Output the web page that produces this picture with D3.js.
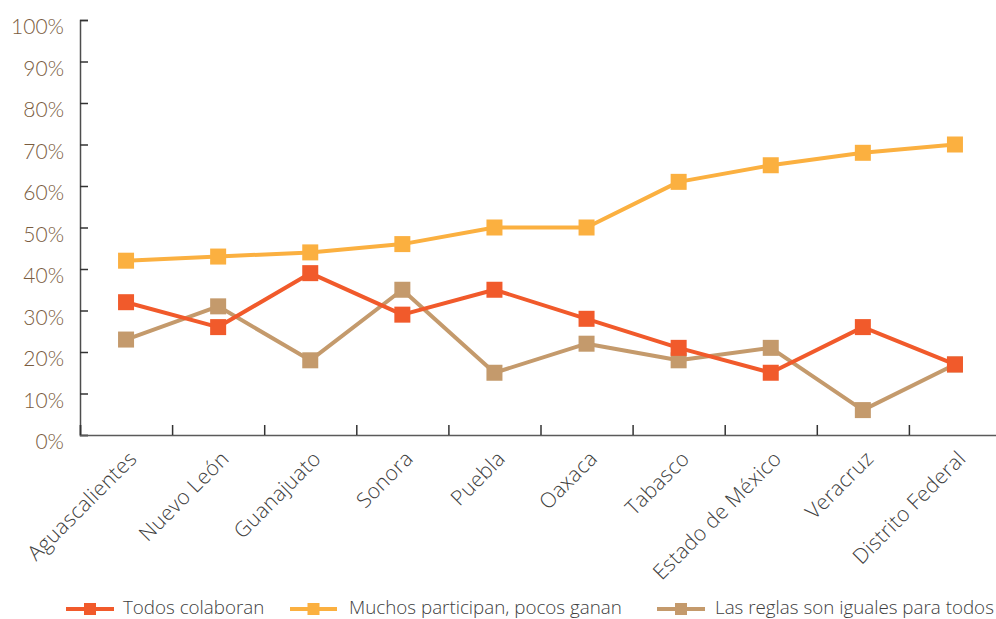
<!DOCTYPE html>
<html>
<head>
<meta charset="utf-8">
<script src="https://cdn.jsdelivr.net/npm/d3@7"></script>
<style>
  html, body { margin: 0; padding: 0; background: #fff; }
  svg { display: block; }
  text { font-family: Lato, "Open Sans", sans-serif; }
  .os { font-family: "Open Sans", Lato, sans-serif; }
</style>
</head>
<body>
<svg id="chart" width="996" height="619"></svg>
<script>
const categories = ["Aguascalientes", "Nuevo León", "Guanajuato", "Sonora", "Puebla", "Oaxaca", "Tabasco", "Estado de México", "Veracruz", "Distrito Federal"];
const todosColaboran = [32, 26, 39, 29, 35, 28, 21, 15, 26, 17];
const muchosParticipan = [42, 43, 44, 46, 50, 50, 61, 65, 68, 70];
const reglasIguales = [23, 31, 18, 35, 15, 22, 18, 21, 6, 17];
const yTicks = [0, 10, 20, 30, 40, 50, 60, 70, 80, 90, 100];
const seriesNames = ["Todos colaboran", "Muchos participan, pocos ganan", "Las reglas son iguales para todos"];
const seriesColors = ["#F15A2B", "#FBB040", "#C49A6C"];

const series = [
  { name: seriesNames[0], values: todosColaboran, color: seriesColors[0] },
  { name: seriesNames[1], values: muchosParticipan, color: seriesColors[1] },
  { name: seriesNames[2], values: reglasIguales, color: seriesColors[2] }
];

const svg = d3.select("#chart");
const mLeft = 80, mRight = 1001, mTop = 20, mBottom = 435;

const x = d3.scaleBand().domain(categories).range([mLeft, mRight]).paddingInner(0).paddingOuter(0);
const xEdges = d3.scaleLinear().domain([0, categories.length]).range([mLeft, mRight]);
const y = d3.scaleLinear().domain([0, 100]).range([mBottom, mTop]);

// Y axis
const yAxis = svg.append("g")
  .attr("transform", `translate(${mLeft},0)`)
  .call(d3.axisLeft(y).tickValues(yTicks).tickSize(-8).tickPadding(16).tickFormat(d => d + "%"));
yAxis.select(".domain").attr("stroke", "#4d4d4d").attr("stroke-width", 1.5);
yAxis.selectAll(".tick line").attr("stroke", "#333").attr("stroke-width", 1.5);
yAxis.selectAll(".tick text")
  .attr("fill", "#7A5C3E")
  .attr("font-size", 21)
  .attr("font-weight", 300)
  .attr("dy", "0.32em")
  .attr("transform", "translate(0,7)");

// X axis (ticks at category boundaries)
const xAxis = svg.append("g")
  .attr("transform", `translate(0,${mBottom})`)
  .call(d3.axisBottom(xEdges).tickValues(d3.range(0, categories.length + 1)).tickSize(-10).tickFormat(""));
xAxis.select(".domain").attr("stroke", "#5a5a5a").attr("stroke-width", 1.5);
xAxis.selectAll(".tick line").attr("stroke", "#333").attr("stroke-width", 1.5);

// X labels
svg.append("g").selectAll("text")
  .data(categories)
  .join("text")
  .attr("class", "os")
  .attr("transform", d => `translate(${x(d) + x.bandwidth() / 2 + 12},${mBottom + 25}) rotate(-45)`)
  .attr("text-anchor", "end")
  .attr("fill", "#404040")
  .attr("font-size", 21)
  .attr("letter-spacing", 0.3)
  .attr("font-weight", 300)
  .text(d => d);

// Lines and markers
const line = d3.line()
  .x((d, i) => x(categories[i]) + x.bandwidth() / 2)
  .y(d => y(d));

const drawOrder = [1, 2, 0];
drawOrder.forEach(si => {
  const s = series[si];
  const g = svg.append("g");
  g.append("path")
    .datum(s.values)
    .attr("fill", "none")
    .attr("stroke", s.color)
    .attr("stroke-width", 4)
    .attr("stroke-linejoin", "round")
    .attr("d", line);
  const m = 16;
  g.selectAll("rect")
    .data(s.values)
    .join("rect")
    .attr("x", (d, i) => x(categories[i]) + x.bandwidth() / 2 - m / 2)
    .attr("y", d => y(d) - m / 2)
    .attr("width", m)
    .attr("height", m)
    .attr("fill", s.color);
});

// Legend
const legendItems = [
  { x0: 66, x1: 114, tx: 123 },
  { x0: 290, x1: 337, tx: 349 },
  { x0: 657, x1: 705, tx: 715 }
];
const ly = 609;
const legend = svg.append("g");
series.forEach((s, i) => {
  const li = legendItems[i];
  legend.append("line")
    .attr("x1", li.x0).attr("x2", li.x1)
    .attr("y1", ly).attr("y2", ly)
    .attr("stroke", s.color).attr("stroke-width", 4);
  legend.append("rect")
    .attr("x", (li.x0 + li.x1) / 2 - 6).attr("y", ly - 6)
    .attr("width", 12).attr("height", 12)
    .attr("fill", s.color);
  legend.append("text")
    .attr("class", "os")
    .attr("x", li.tx).attr("y", ly + 5)
    .attr("fill", "#404040")
    .attr("font-size", 18.8)
    .attr("font-weight", 300)
    .text(s.name);
});
</script>
</body>
</html>
